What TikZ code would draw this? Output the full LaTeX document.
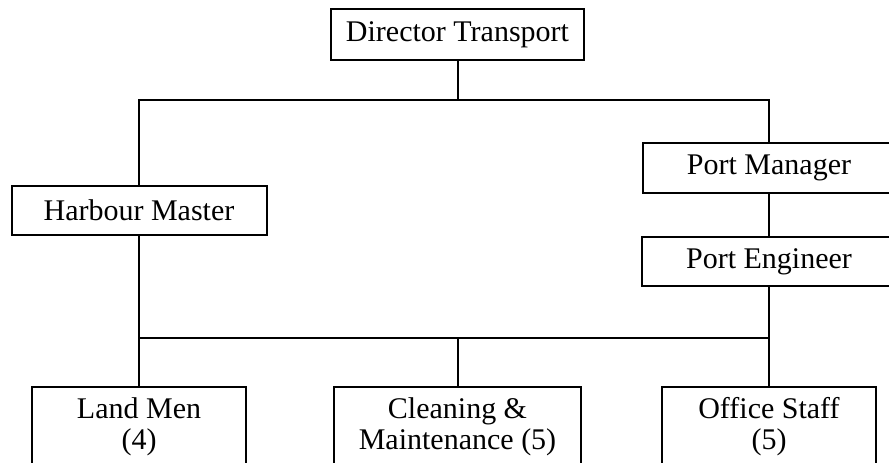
\documentclass[tikz,border=0pt]{standalone}
\usepackage{fontspec}
\setmainfont{Liberation Serif}
\begin{document}
\begin{tikzpicture}[x=1pt,y=-1pt,
  orgbox/.style={draw, line width=2pt, rectangle, inner sep=0pt, align=center,
    font=\fontsize{30}{31}\selectfont},
  link/.style={draw, line width=2pt}]
\useasboundingbox (0,0) rectangle (889,463);
\clip (0,0) rectangle (889,463);
\node[orgbox, minimum width=253pt, minimum height=51pt] (dir) at (457.5,34.5) {Director Transport};
\node[orgbox, minimum width=255pt, minimum height=49pt] (hm) at (139,210.5) {Harbour Master};
\node[orgbox, minimum width=252pt, minimum height=50pt] (pm) at (769,168) {Port Manager};
\node[orgbox, minimum width=254pt, minimum height=49pt] (pe) at (769,261.5) {Port Engineer};
\node[orgbox, minimum width=214pt, minimum height=79pt] (lm) at (139,426.5) {Land Men\\(4)};
\node[orgbox, minimum width=247pt, minimum height=79pt] (cm) at (457.5,426.5) {Cleaning \&\\Maintenance (5)};
\node[orgbox, minimum width=214pt, minimum height=79pt] (os) at (769,426.5) {Office Staff\\(5)};
\coordinate (tb) at (0,100);
\coordinate (bb) at (0,338);
\draw[link] (dir.south) -- (dir.south |- tb);
\draw[link] (hm.north) -- (hm.north |- tb) -- (pm.north |- tb) -- (pm.north);
\draw[link] (pm.south) -- (pe.north);
\draw[link] (hm.south) -- (hm.south |- bb) -- (pe.south |- bb) -- (pe.south);
\draw[link] (lm.north |- bb) -- (lm.north);
\draw[link] (cm.north |- bb) -- (cm.north);
\draw[link] (os.north |- bb) -- (os.north);
\end{tikzpicture}
\end{document}
